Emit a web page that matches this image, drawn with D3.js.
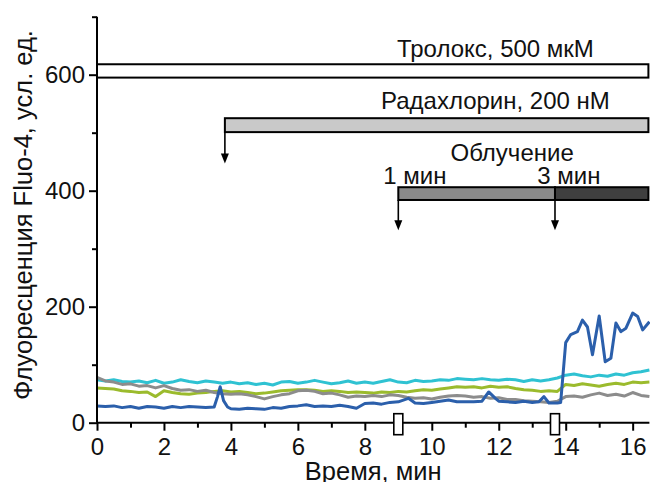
<!DOCTYPE html>
<html>
<head>
<meta charset="utf-8">
<script src="https://cdn.jsdelivr.net/npm/d3@7"></script>
<style>
  html, body { margin: 0; padding: 0; background: #fff; }
  svg { display: block; font-family: Arial, "Liberation Sans", sans-serif; }
</style>
</head>
<body>
<svg id="chart" width="650" height="482"></svg>
<script>
// Fluo-4 fluorescence traces (arbitrary units) versus time, minutes
const sampleTimes = [0,0.25,0.5,0.75,1,1.25,1.5,1.75,2,2.25,2.5,2.75,3,3.25,3.5,3.75,4,4.25,4.5,4.75,
  5,5.25,5.5,5.75,6,6.25,6.5,6.75,7,7.25,7.5,7.75,8,8.25,8.5,8.75,9,9.25,9.5,9.75,
  10,10.25,10.5,10.75,11,11.25,11.5,11.75,12,12.25,12.5,12.75,13,13.25,13.5,13.75,14,14.25,14.5,14.75,
  15,15.25,15.5,15.75,16,16.25,16.5];

const cyanValues = [74,72,74,71,70,72,69,73,68,70,74,71,69,72,70,68,70,67,69,66,
  68,65,70,71,68,70,73,70,67,69,72,68,70,68,71,74,70,69,73,71,
  72,74,73,76,75,74,76,74,73,75,74,71,74,72,74,77,82,84,81,79,
  82,80,84,82,86,88,91];

const greenValues = [60,59,58,55,54,52,53,45,55,52,50,49,51,52,54,55,53,54,52,50,
  51,53,55,56,57,57,56,54,55,54,52,53,52,51,53,52,54,53,55,57,
  56,58,60,62,61,62,60,63,61,62,59,57,56,54,55,54,66,64,67,65,
  63,66,68,66,70,69,70];

const grayValues = [78,72,70,66,67,63,64,60,64,59,56,57,54,56,52,50,49,50,48,45,
  41,45,48,50,55,56,54,50,51,48,44,46,45,47,45,48,47,44,42,43,
  41,44,46,47,46,44,45,42,43,40,40,38,37,36,35,37,45,46,44,48,
  51,47,49,46,52,47,45];

const blueTimes = [0,0.25,0.5,0.75,1,1.25,1.5,1.75,2,2.25,2.5,2.75,3,3.25,3.5,3.6,3.68,3.78,3.9,
  4,4.25,4.5,4.75,5,5.25,5.5,5.75,6,6.25,6.5,6.75,7,7.25,7.5,7.75,8,8.25,8.5,8.75,9,9.3,9.5,9.75,
  10,10.25,10.5,10.75,11,11.25,11.5,11.7,11.9,12,12.25,12.5,12.75,13,13.2,13.35,13.5,13.75,13.85,
  14,14.15,14.35,14.5,14.65,14.8,15,15.18,15.35,15.5,15.65,15.8,16,16.15,16.3,16.5];

const blueValues = [29,28,29,26,28,25,28,27,25,28,26,28,27,26,27,45,62,38,27,
  24,23,25,24,23,26,25,28,29,31,28,29,28,30,28,25,33,34,32,35,36,42,34,33,
  35,37,39,36,36,36,37,53,42,37,36,35,37,35,36,45,34,34,35,
  138,152,157,177,165,117,184,105,111,172,157,163,189,183,160,174];

const traces = [
  { name: "cyan",  color: "#2fc2d2", t: sampleTimes, v: cyanValues },
  { name: "green", color: "#9bbb2d", t: sampleTimes, v: greenValues },
  { name: "gray",  color: "#8c8c8c", t: sampleTimes, v: grayValues },
  { name: "blue",  color: "#2b5fab", t: blueTimes,   v: blueValues }
];

// Treatment bars: [start, end] in minutes, [low, high] in fluorescence units
const barLabels = ["Тролокс, 500 мкМ", "Радахлорин, 200 нМ"];
const troloxSpan = [0, 16.5], troloxLevel = [595, 618];
const radachlorinSpan = [3.82, 16.5], radachlorinLevel = [501, 525], radachlorinArrowTo = 447;
const irradiationLabel = "Облучение";
const irradiationSteps = ["1 мин", "3 мин"];
const irradiationSpans = [[9.0, 13.68], [13.68, 16.5]];
const irradiationLevel = [384, 406], irradiationArrowTo = 332;
const irradiationFills = ["#8a8a8a", "#3f3f3f"];

const xTicksMajor = [0,2,4,6,8,10,12,14,16];
const xTicksMinor = [1,3,5,7,9,11,13,15];
const yTicksMajor = [0,200,400,600];
const yTicksMinor = [100,300,500,700];
const xTitle = "Время, мин";
const yTitle = "Флуоресценция Fluo-4, усл. ед.";

const svg = d3.select("#chart");
const plotLeft = 97, plotRight = 649.4, plotTop = 16.7, plotBottom = 422.7;

const x = d3.scaleLinear().domain([0, 16.5]).range([plotLeft, plotRight]);
const y = d3.scaleLinear().domain([0, 700]).range([plotBottom, plotTop]);

const tickFont = 24, noteFont = 24, titleFont = 25.5;

// Traces
const line = d3.line().x(d => x(d[0])).y(d => y(d[1]));
const plot = svg.append("g");
traces.forEach(s => {
  plot.append("path")
    .datum(s.t.map((t, i) => [t, s.v[i]]))
    .attr("fill", "none")
    .attr("stroke", s.color)
    .attr("stroke-width", 3)
    .attr("stroke-linejoin", "round")
    .attr("d", line);
});

// Axes
const xAxis = svg.append("g").attr("transform", `translate(0,${plotBottom})`)
  .call(d3.axisBottom(x).tickValues(xTicksMajor).tickSize(8).tickPadding(7).tickFormat(d3.format("d")));
svg.append("g").attr("transform", `translate(0,${plotBottom})`)
  .call(d3.axisBottom(x).tickValues(xTicksMinor).tickSize(5).tickFormat(""))
  .call(g => g.select(".domain").remove());
const yAxis = svg.append("g").attr("transform", `translate(${plotLeft},0)`)
  .call(d3.axisLeft(y).tickValues(yTicksMajor).tickSize(8).tickPadding(4).tickFormat(d3.format("d")));
svg.append("g").attr("transform", `translate(${plotLeft},0)`)
  .call(d3.axisLeft(y).tickValues(yTicksMinor).tickSize(5).tickFormat(""))
  .call(g => g.select(".domain").remove());

svg.selectAll(".domain").attr("stroke", "#000").attr("stroke-width", 2);
svg.selectAll(".tick line").attr("stroke", "#000").attr("stroke-width", 2);
svg.selectAll(".tick text")
  .attr("font-size", tickFont)
  .attr("font-family", "Arial, 'Liberation Sans', sans-serif")
  .attr("fill", "#111");
xAxis.select(".domain").attr("d", `M${plotLeft},0H${plotRight}`);
yAxis.select(".domain").attr("d", `M0,${plotTop}V${plotBottom}`);

// Axis titles
svg.append("text")
  .attr("x", (plotLeft + plotRight) / 2).attr("y", 480)
  .attr("text-anchor", "middle").attr("font-size", titleFont).attr("fill", "#111")
  .text(xTitle);
svg.append("text")
  .attr("transform", `translate(32,215) rotate(-90)`)
  .attr("text-anchor", "middle").attr("font-size", titleFont).attr("fill", "#111")
  .text(yTitle);

// Treatment annotations
const ann = svg.append("g");
const arrow = (g, t, yFrom, yTo) => {
  g.append("line")
    .attr("x1", x(t)).attr("x2", x(t))
    .attr("y1", y(yFrom)).attr("y2", y(yTo) - 8)
    .attr("stroke", "#000").attr("stroke-width", 1.6);
  g.append("path")
    .attr("d", `M${x(t) - 4},${y(yTo) - 10}L${x(t) + 4},${y(yTo) - 10}L${x(t)},${y(yTo)}Z`)
    .attr("fill", "#000");
};

ann.append("rect")
  .attr("x", x(troloxSpan[0])).attr("width", x(troloxSpan[1]) - x(troloxSpan[0]) - 1)
  .attr("y", y(troloxLevel[1])).attr("height", y(troloxLevel[0]) - y(troloxLevel[1]))
  .attr("fill", "#fff").attr("stroke", "#000").attr("stroke-width", 2);
ann.append("text")
  .attr("x", x(11.9)).attr("y", y(630)).attr("text-anchor", "middle")
  .attr("font-size", noteFont).attr("fill", "#111").text(barLabels[0]);

ann.append("rect")
  .attr("x", x(radachlorinSpan[0])).attr("width", x(radachlorinSpan[1]) - x(radachlorinSpan[0]) - 1)
  .attr("y", y(radachlorinLevel[1])).attr("height", y(radachlorinLevel[0]) - y(radachlorinLevel[1]))
  .attr("fill", "#c9c9c9").attr("stroke", "#000").attr("stroke-width", 2);
arrow(ann, radachlorinSpan[0], radachlorinLevel[0], radachlorinArrowTo);
ann.append("text")
  .attr("x", x(11.9)).attr("y", y(541)).attr("text-anchor", "middle")
  .attr("font-size", noteFont).attr("fill", "#111").text(barLabels[1]);

irradiationSpans.forEach((s, i) => {
  ann.append("rect")
    .attr("x", x(s[0])).attr("width", x(s[1]) - x(s[0]) - (i === 1 ? 1 : 0))
    .attr("y", y(irradiationLevel[1])).attr("height", y(irradiationLevel[0]) - y(irradiationLevel[1]))
    .attr("fill", irradiationFills[i]).attr("stroke", "#000").attr("stroke-width", 2);
  arrow(ann, s[0], irradiationLevel[0], irradiationArrowTo);
});
ann.append("text")
  .attr("x", x(12.4)).attr("y", y(451)).attr("text-anchor", "middle")
  .attr("font-size", noteFont).attr("fill", "#111").text(irradiationLabel);
ann.append("text")
  .attr("x", x(8.55)).attr("y", y(412)).attr("text-anchor", "start")
  .attr("font-size", noteFont).attr("fill", "#111").text(irradiationSteps[0]);
ann.append("text")
  .attr("x", x(13.15)).attr("y", y(412)).attr("text-anchor", "start")
  .attr("font-size", noteFont).attr("fill", "#111").text(irradiationSteps[1]);

// Irradiation onset markers on the time axis
irradiationSpans.forEach(s => {
  svg.append("rect")
    .attr("x", x(s[0]) - 4.5).attr("width", 9)
    .attr("y", plotBottom - 9).attr("height", 21)
    .attr("fill", "#fff").attr("stroke", "#000").attr("stroke-width", 1.6);
});
</script>
</body>
</html>
